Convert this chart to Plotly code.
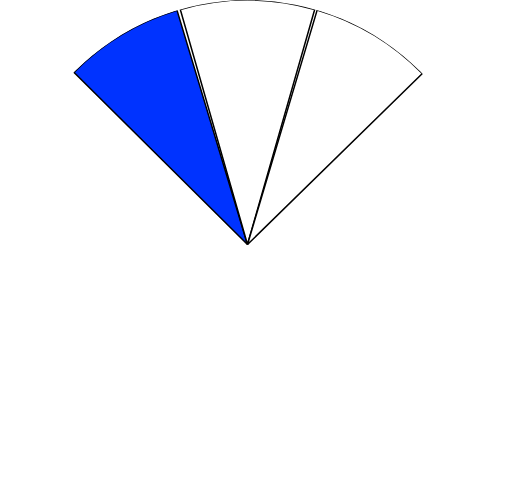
import plotly.graph_objects as go

# Data
categories = ["A", "B", "C"]
r_values = [10, 10, 10]
theta_centers = [121.0, 90.0, 58.9]
theta_widths = [28.5, 31.9, 29.1]
colors = ["#0033ff", "#ffffff", "#ffffff"]

fig = go.Figure()
fig.add_trace(go.Barpolar(
    r=r_values,
    theta=theta_centers,
    width=theta_widths,
    text=categories,
    marker=dict(color=colors, line=dict(color="black", width=1.5)),
    hoverinfo="text",
))

fig.update_layout(
    width=512, height=494,
    margin=dict(l=0, r=17, t=0, b=5),
    paper_bgcolor="white",
    showlegend=False,
    polar=dict(
        bgcolor="white",
        radialaxis=dict(range=[0, 10], visible=False, showgrid=False),
        angularaxis=dict(visible=False, showgrid=False, rotation=0, direction="counterclockwise"),
    ),
)

fig.write_html("out.html")
